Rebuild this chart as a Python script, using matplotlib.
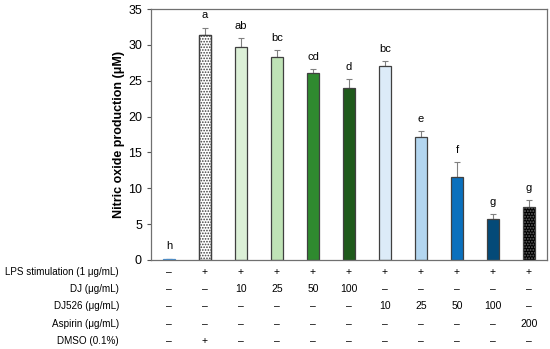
import matplotlib.pyplot as plt
import numpy as np

# bar values
no_values = [0.1, 31.4, 29.7, 28.3, 26.1, 24.0, 27.0, 17.2, 11.6, 5.7, 7.4]
no_errors = [0.1, 1.0, 1.3, 1.0, 0.5, 1.2, 0.7, 0.8, 2.0, 0.7, 1.0]
letters = ["h", "a", "ab", "bc", "cd", "d", "bc", "e", "f", "g", "g"]
bar_colors = ["#4a90d0", "white", "#dcf0d7", "#bfe3b6", "#2f8a2f", "#1f5a1c",
              "#dcebf8", "#b3d6f0", "#0a70bd", "#044a78", "black"]
hatches = [None, "......", None, None, None, None, None, None, None, None, "......"]

row_labels = ["LPS stimulation (1 μg/mL)", "DJ (μg/mL)", "DJ526 (μg/mL)",
              "Aspirin (μg/mL)", "DMSO (0.1%)"]
row_lps = ["–", "+", "+", "+", "+", "+", "+", "+", "+", "+", "+"]
row_dj = ["–", "–", "10", "25", "50", "100", "–", "–", "–", "–", "–"]
row_dj526 = ["–", "–", "–", "–", "–", "–", "10", "25", "50", "100", "–"]
row_aspirin = ["–", "–", "–", "–", "–", "–", "–", "–", "–", "–", "200"]
row_dmso = ["–", "+", "–", "–", "–", "–", "–", "–", "–", "–", "–"]
table_rows = [row_lps, row_dj, row_dj526, row_aspirin, row_dmso]

plt.rcParams['font.family'] = ['Liberation Sans', 'DejaVu Sans']
plt.rcParams['hatch.linewidth'] = 0.8

fig = plt.figure(figsize=(5.5, 3.49), dpi=100)
ax = fig.add_axes([151 / 550, 1 - 260 / 349, 396 / 550, 251 / 349])

x = np.arange(len(no_values))
for i in x:
    h = hatches[i]
    ax.bar(i, no_values[i], width=0.34, color=bar_colors[i],
           edgecolor="#404040" if i != 0 else bar_colors[i], linewidth=0.9,
           hatch=h, zorder=2)
    if i == 10:
        ax.bar(i, no_values[i], width=0.34, color="none", edgecolor="#555555",
               hatch="......", linewidth=0, zorder=3)
    if i == 1:
        ax.bar(i, no_values[i], width=0.34, color="none", edgecolor="#404040",
               linewidth=0.9, zorder=3)
    ax.errorbar(i, no_values[i], yerr=[[0], [no_errors[i]]], fmt="none",
                ecolor="#808080", elinewidth=0.8, capsize=2, capthick=0.8, zorder=1)
    ax.text(i, no_values[i] + no_errors[i] + 1.0, letters[i], ha="center",
            va="bottom", fontsize=8)

ax.set_xlim(-0.5, 10.5)
ax.set_ylim(0, 35)
ax.set_yticks(range(0, 36, 5))
ax.set_xticks([])
ax.tick_params(axis="y", labelsize=9, length=3, width=0.8, color="#555555")
for s in ax.spines.values():
    s.set_color("#707070")
    s.set_linewidth(0.9)
ax.set_ylabel("Nitric oxide production (μM)", fontsize=9, fontweight="bold",
              labelpad=2)

row_y = [272, 289, 306, 324, 341]
for r, (lab, vals) in enumerate(zip(row_labels, table_rows)):
    yy = 1 - row_y[r] / 349
    fig.text(119 / 550, yy, lab, ha="right", va="center", fontsize=7.1)
    for i, v in enumerate(vals):
        xx = (151 + 36 * (i + 0.5)) / 550
        fig.text(xx, yy, v, ha="center", va="center", fontsize=7.5)

fig.savefig("out.png", dpi=100)
